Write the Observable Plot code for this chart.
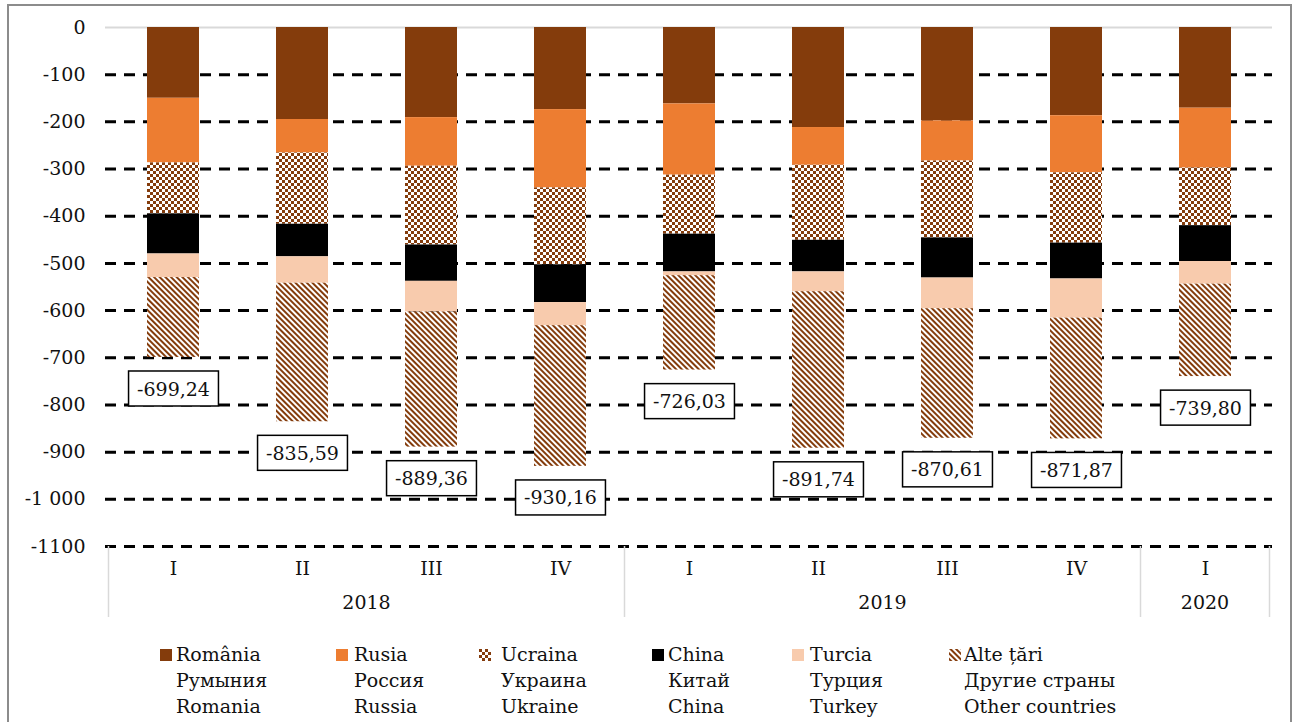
<!DOCTYPE html>
<html>
<head>
<meta charset="utf-8">
<script src="https://cdn.jsdelivr.net/npm/d3@7"></script>
<script src="https://cdn.jsdelivr.net/npm/@observablehq/plot@0.6"></script>
<style>
  body { margin: 0; background: #fff; }
  #wrap { position: relative; width: 1299px; height: 722px; overflow: hidden; font-family: "DejaVu Serif", serif; }
  #border { position: absolute; left: 7px; top: 4px; width: 1285px; height: 800px; border: 2px solid #8c8c8c; box-sizing: border-box; pointer-events: none; z-index: 5; }
  .lg-sw { position: absolute; width: 12px; height: 12px; top: 649px; }
  .lg-tx { position: absolute; top: 641px; font-size: 19px; line-height: 26px; color: #111; white-space: nowrap; }
</style>
</head>
<body>
<div id="wrap">
  <div id="chart"></div>
  <div id="legend"></div>
  <div id="border"></div>
</div>
<script>
// ---- data ----
const quarters = ["I", "II", "III", "IV", "I", "II", "III", "IV", "I"];
const years    = ["2018", "2018", "2018", "2018", "2019", "2019", "2019", "2019", "2020"];
const romania  = [-150, -195, -191, -174, -162, -212, -198, -187, -171];
const russia   = [-137,  -71, -103, -166, -151,  -80,  -85, -121, -127];
const ukraine  = [-108, -151, -167, -163, -125, -159, -163, -149, -122];
const china    = [ -85,  -69,  -77,  -80,  -80,  -67,  -85,  -76,  -76];
const turkey   = [ -50,  -56,  -65,  -49,   -8,  -42,  -65,  -83,  -48];
const others   = [-169.24, -293.59, -286.36, -298.16, -200.03, -331.74, -274.61, -255.87, -195.80];
const totals   = [-699.24, -835.59, -889.36, -930.16, -726.03, -891.74, -870.61, -871.87, -739.80];
const yTicks      = [0, -100, -200, -300, -400, -500, -600, -700, -800, -900, -1000, -1100];
const yTickLabels = ["0", "-100", "-200", "-300", "-400", "-500", "-600", "-700", "-800", "-900", "-1 000", "-1100"];
const countries = ["România", "Rusia", "Ucraina", "China", "Turcia", "Alte țări"];
const legendRu  = ["Румыния", "Россия", "Украина", "Китай", "Турция", "Другие страны"];
const legendEn  = ["Romania", "Russia", "Ukraine", "China", "Turkey", "Other countries"];
const fills = ["#843C0C", "#ED7D31", "url(#pat-ua)", "#000000", "#F8CBAD", "url(#pat-other)"];

// ---- build table ----
const keys = quarters.map((q, i) => years[i] + "-" + q);
const series = [romania, russia, ukraine, china, turkey, others];
const rows = [];
keys.forEach((k, i) => {
  series.forEach((s, j) => rows.push({key: k, country: countries[j], value: s[i]}));
});
const totalRows = keys.map((k, i) => ({key: k, total: totals[i]}));
const qRows = keys.map((k, i) => ({key: k, q: quarters[i]}));
const tickLabelMap = new Map(yTicks.map((t, i) => [t, yTickLabels[i]]));

const W = 1299, H = 640;
const mL = 105, mR = 27, mT = 27, mB = 94;

const chart = Plot.plot({
  width: W,
  height: H,
  marginLeft: mL,
  marginRight: mR,
  marginTop: mT,
  marginBottom: mB,
  style: {fontFamily: "DejaVu Serif", fontSize: "19px", color: "#111", background: "transparent"},
  x: {type: "band", domain: keys, paddingInner: 0.6, paddingOuter: 0.3, axis: null},
  y: {domain: [-1100, 0], ticks: yTicks, tickFormat: d => tickLabelMap.get(d), tickSize: 0, tickPadding: 20, label: null},
  color: {type: "ordinal", domain: countries, range: fills},
  marks: [
    Plot.ruleY(yTicks.filter(d => d !== 0), {stroke: "#000", strokeWidth: 3, strokeDasharray: "11,8"}),
    Plot.ruleY([0], {stroke: "#d9d9d9", strokeWidth: 2}),
    Plot.barY(rows, {x: "key", y: "value", fill: "country", order: countries}),
    Plot.text(totalRows, {x: "key", y: "total", text: d => d.total.toFixed(2).replace(".", ","), dy: 32, className: "totlabel", fill: "#111"}),
    Plot.text(qRows, {x: "key", text: "q", frameAnchor: "bottom", lineAnchor: "middle", dy: 22, fill: "#111"})
  ]
});
document.getElementById("chart").appendChild(chart);

const svg = d3.select(chart);
// patterns
const defs = svg.insert("defs", ":first-child");
const pu = defs.append("pattern").attr("id", "pat-ua").attr("patternUnits", "userSpaceOnUse").attr("width", 6).attr("height", 6);
pu.append("rect").attr("width", 6).attr("height", 6).attr("fill", "#fff");
pu.append("rect").attr("width", 3).attr("height", 3).attr("fill", "#843C0C");
pu.append("rect").attr("x", 3).attr("y", 3).attr("width", 3).attr("height", 3).attr("fill", "#843C0C");
const po = defs.append("pattern").attr("id", "pat-other").attr("patternUnits", "userSpaceOnUse").attr("width", 4).attr("height", 4).attr("patternTransform", "rotate(-45)");
po.append("rect").attr("width", 4).attr("height", 4).attr("fill", "#fff");
po.append("rect").attr("width", 2).attr("height", 4).attr("fill", "#843C0C");

// boxes behind total labels (same transform as each text)
svg.selectAll("g.totlabel text").each(function() {
  const b = this.getBBox();
  const bw = b.width + 17, bh = 35;
  const rect = d3.select(this.parentNode).insert("rect", () => this)
    .attr("x", b.x + b.width / 2 - bw / 2)
    .attr("y", b.y + b.height / 2 - bh / 2)
    .attr("width", bw).attr("height", bh)
    .attr("fill", "#fff").attr("stroke", "#000").attr("stroke-width", 1.5);
  const tr = this.getAttribute("transform");
  if (tr) rect.attr("transform", tr);
});

// year groups & separators using the x scale
const xs = chart.scale("x");
const center = k => xs.apply(k) + xs.bandwidth / 2;
const step = xs.step;
const bottom = H - mB;
const groups = d3.groups(keys.map((k, i) => ({k, y: years[i]})), d => d.y);
const g = svg.append("g");
groups.forEach(([yr, arr]) => {
  const c0 = center(arr[0].k), c1 = center(arr[arr.length - 1].k);
  g.append("text").attr("x", (c0 + c1) / 2).attr("y", bottom + 57).attr("dy", "0.32em")
    .attr("text-anchor", "middle").attr("fill", "#111").text(yr);
  g.append("line").attr("x1", c0 - step / 2).attr("x2", c0 - step / 2)
    .attr("y1", bottom).attr("y2", bottom + 71).attr("stroke", "#d9d9d9").attr("stroke-width", 1.5);
});
const lastC = center(keys[keys.length - 1]) + step / 2;
g.append("line").attr("x1", lastC).attr("x2", lastC).attr("y1", bottom).attr("y2", bottom + 71)
  .attr("stroke", "#d9d9d9").attr("stroke-width", 1.5);

// legend (HTML)
const legend = document.getElementById("legend");
const swX = [160, 336, 479, 652, 792, 949];
const txX = [176, 354, 501, 668, 810, 964];
countries.forEach((c, i) => {
  const sw = document.createElementNS("http://www.w3.org/2000/svg", "svg");
  sw.setAttribute("class", "lg-sw");
  sw.setAttribute("width", 12); sw.setAttribute("height", 12);
  sw.style.left = swX[i] + "px";
  const r = document.createElementNS("http://www.w3.org/2000/svg", "rect");
  r.setAttribute("width", 12); r.setAttribute("height", 12); r.setAttribute("fill", fills[i]);
  sw.appendChild(r);
  legend.appendChild(sw);
  const tx = document.createElement("div");
  tx.className = "lg-tx";
  tx.style.left = txX[i] + "px";
  tx.innerHTML = c + "<br>" + legendRu[i] + "<br>" + legendEn[i];
  legend.appendChild(tx);
});
</script>
</body>
</html>
